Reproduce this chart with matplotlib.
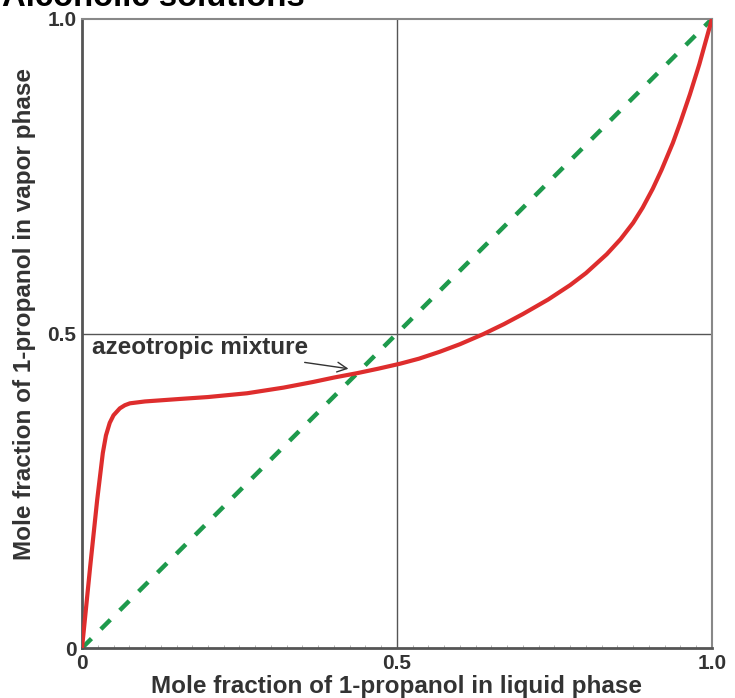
import numpy as np
import matplotlib.pyplot as plt

# liquid-phase mole fraction vs vapor-phase mole fraction
x_liq = [0.0, 0.013, 0.024, 0.033, 0.038, 0.044, 0.050, 0.060, 0.068, 0.076,
         0.10, 0.156, 0.20, 0.262, 0.32, 0.367, 0.40, 0.437, 0.47, 0.505,
         0.535, 0.568, 0.60, 0.637, 0.67, 0.70, 0.74, 0.775, 0.80, 0.833,
         0.855, 0.875, 0.89, 0.906, 0.92, 0.938, 0.95, 0.965, 0.98, 1.0]
y_vap = [0.0, 0.130, 0.235, 0.310, 0.338, 0.358, 0.370, 0.381, 0.386, 0.389,
         0.392, 0.396, 0.399, 0.405, 0.414, 0.423, 0.430, 0.437, 0.444, 0.452,
         0.460, 0.471, 0.483, 0.499, 0.515, 0.531, 0.554, 0.577, 0.596, 0.626,
         0.650, 0.676, 0.700, 0.730, 0.760, 0.803, 0.836, 0.880, 0.928, 1.0]
diag = [0.0, 1.0]
ticks = [0, 0.5, 1.0]
tick_labels = ['0', '0.5', '1.0']

plt.rcParams['font.family'] = ['Liberation Sans', 'DejaVu Sans']
txt = '#333333'

fig = plt.figure(figsize=(7.35, 6.98), dpi=100)
ax = fig.add_axes([0.1116, 0.0716, 0.857, 0.9012])

ax.axvline(0.5, color='#555555', lw=1.0, zorder=1)
ax.axhline(0.5, color='#555555', lw=1.0, zorder=1)

ax.plot(diag, diag, color='#1e9a4c', lw=3.2, dashes=(3, 3), zorder=2)
ax.plot(x_liq, y_vap, color='#de2d2d', lw=3.0, zorder=3,
        solid_joinstyle='round', solid_capstyle='round')

ax.set_xlim(0, 1)
ax.set_ylim(0, 1)
ax.set_xticks(ticks)
ax.set_xticklabels(tick_labels)
ax.set_yticks(ticks)
ax.set_yticklabels(tick_labels)
ax.set_xticks(np.arange(0, 1.001, 0.025), minor=True)
ax.tick_params(axis='both', which='major', length=0, pad=4, labelsize=15,
               labelcolor=txt)
ax.tick_params(axis='x', which='minor', length=2, direction='in', color='#aaaaaa')
for lab in ax.get_xticklabels() + ax.get_yticklabels():
    lab.set_fontweight('bold')

for s in ['left', 'bottom']:
    ax.spines[s].set_color('#555555')
    ax.spines[s].set_linewidth(2.0)
for s in ['top', 'right']:
    ax.spines[s].set_color('#888888')
    ax.spines[s].set_linewidth(1.5)

ax.set_xlabel('Mole fraction of 1-propanol in liquid phase', fontsize=17.5,
              fontweight='bold', color=txt, labelpad=2)
ax.set_ylabel('Mole fraction of 1-propanol in vapor phase', fontsize=17.5,
              fontweight='bold', color=txt, labelpad=8)
ax.yaxis.label.set_y(0.531)

ax.annotate('azeotropic mixture', xy=(0.423, 0.444), xytext=(0.016, 0.478),
            fontsize=17.5, fontweight='bold', color=txt, va='center',
            arrowprops=dict(arrowstyle='->', color='#333333', lw=1.0,
                            shrinkA=4, shrinkB=0))

fig.text(0.003, 0.991, 'Alcoholic solutions', fontsize=23.7, fontweight='bold',
         va='baseline', ha='left')

fig.savefig('out.png', dpi=100)
